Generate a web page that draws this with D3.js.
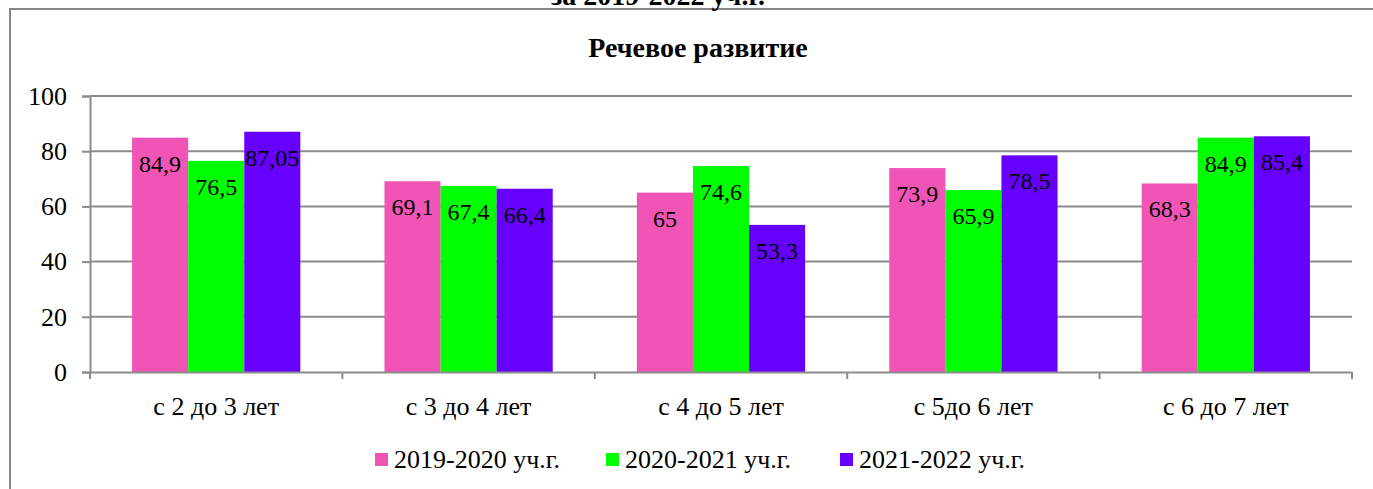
<!DOCTYPE html>
<html>
<head>
<meta charset="utf-8">
<script src="https://cdn.jsdelivr.net/npm/d3@7"></script>
<style>
  body { margin: 0; background: #fff; }
</style>
</head>
<body>
<div id="chart"></div>
<script>
// Речевое развитие: bar chart by age group, three school years
var categories = ["с 2 до 3 лет", "с 3 до 4 лет", "с 4 до 5 лет", "с 5до 6 лет", "с 6 до 7 лет"];
var seriesNames = ["2019-2020 уч.г.", "2020-2021 уч.г.", "2021-2022 уч.г."];
var seriesColors = ["#F055B6", "#00FF00", "#6600FF"];
var values2019 = [84.9, 69.1, 65, 73.9, 68.3];
var values2020 = [76.5, 67.4, 74.6, 65.9, 84.9];
var values2021 = [87.05, 66.4, 53.3, 78.5, 85.4];
var yTicks = [0, 20, 40, 60, 80, 100];

var width = 1373, height = 489;
var margin = {left: 90, right: 21, top: 96, bottom: 117};
var serif = "'Liberation Serif', 'Times New Roman', serif";

var svg = d3.select("#chart").append("svg")
    .attr("width", width)
    .attr("height", height);

// outer frame (runs past the right and bottom edges of the picture)
svg.append("rect")
    .attr("x", 10).attr("y", 9)
    .attr("width", 1400).attr("height", 600)
    .attr("fill", "none")
    .attr("stroke", "#888")
    .attr("stroke-width", 2);

// cut-off heading above the frame
svg.append("text")
    .attr("x", 658).attr("y", 5)
    .attr("text-anchor", "middle")
    .style("font-size", "28px")
    .style("font-weight", "bold")
    .text("за 2019-2022 уч.г.");

svg.append("text")
    .attr("x", 698).attr("y", 57)
    .attr("text-anchor", "middle")
    .style("font-size", "28px")
    .style("font-weight", "bold")
    .text("Речевое развитие");

var x0 = d3.scaleBand()
    .domain(categories)
    .range([margin.left, width - margin.right]);

var x1 = d3.scaleBand()
    .domain(seriesNames)
    .range([0, x0.bandwidth()])
    .paddingInner(0)
    .paddingOuter(0.75);

var y = d3.scaleLinear()
    .domain([0, 100])
    .range([height - margin.bottom, margin.top]);

// gridlines
svg.append("g")
  .selectAll("line")
  .data(yTicks.slice(1))
  .enter().append("line")
    .attr("x1", margin.left).attr("x2", width - margin.right)
    .attr("y1", function(d) { return y(d); })
    .attr("y2", function(d) { return y(d); })
    .attr("stroke", "#8c8c8c")
    .attr("stroke-width", 2);

// bars
var series = seriesNames.map(function(name, i) {
  return {name: name, color: seriesColors[i], values: [values2019, values2020, values2021][i]};
});

var groups = svg.append("g").selectAll("g")
  .data(series)
  .enter().append("g")
    .attr("fill", function(d) { return d.color; });

groups.selectAll("rect")
  .data(function(s) {
    return s.values.map(function(v, j) { return {name: s.name, cat: categories[j], value: v}; });
  })
  .enter().append("rect")
    .attr("x", function(d) { return x0(d.cat) + x1(d.name); })
    .attr("y", function(d) { return y(d.value); })
    .attr("width", x1.bandwidth())
    .attr("height", function(d) { return y(0) - y(d.value); });

// data labels, inside end
groups.selectAll("text")
  .data(function(s) {
    return s.values.map(function(v, j) { return {name: s.name, cat: categories[j], value: v}; });
  })
  .enter().append("text")
    .attr("x", function(d) { return x0(d.cat) + x1(d.name) + x1.bandwidth() / 2; })
    .attr("y", function(d) { return y(d.value) + 34; })
    .attr("text-anchor", "middle")
    .style("font-size", "24px")
    .text(function(d) { return String(d.value).replace(".", ","); });

// y axis
var yAxis = svg.append("g")
    .attr("transform", "translate(" + margin.left + ",0)")
    .call(d3.axisLeft(y).tickValues(yTicks).tickSize(8).tickPadding(15));
yAxis.selectAll("text").style("font-size", "26px");

// x axis with ticks at category boundaries
var xAxis = svg.append("g")
    .attr("transform", "translate(0," + y(0) + ")")
    .call(d3.axisBottom(x0).tickSize(0));
xAxis.selectAll("text")
    .attr("y", 43).attr("dy", 0)
    .style("font-size", "26px");
xAxis.selectAll(".boundary")
  .data(categories.concat([null]))
  .enter().append("line")
    .attr("class", "boundary")
    .attr("x1", function(d, i) { return margin.left + i * x0.step(); })
    .attr("x2", function(d, i) { return margin.left + i * x0.step(); })
    .attr("y1", 0).attr("y2", 7);

svg.selectAll(".domain, .tick line, .boundary")
    .attr("stroke", "#8c8c8c")
    .attr("stroke-width", 2);

// legend
var legendX = [375, 606, 840];
var legend = svg.append("g").selectAll("g")
  .data(series)
  .enter().append("g")
    .attr("transform", function(d, i) { return "translate(" + legendX[i] + ",453)"; });
legend.append("rect")
    .attr("width", 13).attr("height", 13)
    .attr("fill", function(d) { return d.color; });
legend.append("text")
    .attr("x", 19).attr("y", 15)
    .style("font-size", "26px")
    .text(function(d) { return d.name; });

// every text in Times-like serif, black
svg.selectAll("text")
    .attr("font-family", null)
    .style("font-family", serif)
    .style("fill", "#000");
</script>
</body>
</html>
